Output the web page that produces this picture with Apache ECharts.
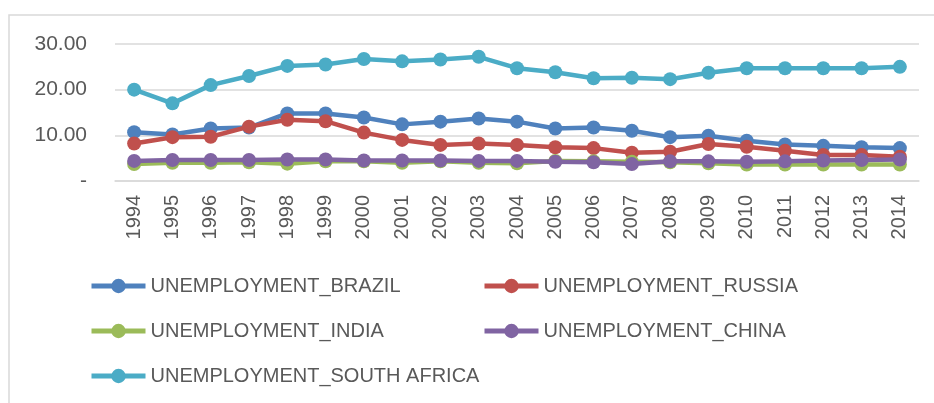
<!DOCTYPE html>
<html>
<head>
<meta charset="utf-8">
<script src="https://cdn.jsdelivr.net/npm/echarts@6/dist/echarts.min.js"></script>
<style>html,body{margin:0;padding:0;background:#fff}#c{width:934px;height:403px}</style>
</head>
<body>
<div id="c"></div>
<script>
const years = ['1994','1995','1996','1997','1998','1999','2000','2001','2002','2003','2004','2005','2006','2007','2008','2009','2010','2011','2012','2013','2014'];
const brazil = [10.7,10.2,11.5,11.7,14.8,14.8,13.9,12.4,13.0,13.7,13.0,11.5,11.7,11.0,9.6,9.9,8.8,8.0,7.7,7.4,7.2];
const russia = [8.2,9.6,9.7,11.9,13.4,13.1,10.6,9.0,7.9,8.2,7.9,7.4,7.2,6.2,6.4,8.1,7.5,6.6,5.7,5.7,5.3];
const india = [3.7,4.0,4.0,4.1,3.8,4.3,4.3,4.0,4.3,4.0,3.9,4.4,4.3,4.2,4.1,3.9,3.6,3.6,3.6,3.6,3.6];
const china = [4.4,4.6,4.6,4.6,4.7,4.7,4.5,4.5,4.5,4.4,4.4,4.2,4.1,3.7,4.3,4.3,4.2,4.3,4.5,4.6,4.7];
const southAfrica = [20.0,17.0,21.0,23.0,25.2,25.5,26.7,26.2,26.6,27.2,24.7,23.8,22.5,22.6,22.3,23.7,24.7,24.7,24.7,24.7,25.0];
const yTicks = [0,10,20,30];

const names = ['UNEMPLOYMENT_BRAZIL','UNEMPLOYMENT_RUSSIA','UNEMPLOYMENT_INDIA','UNEMPLOYMENT_CHINA','UNEMPLOYMENT_SOUTH AFRICA'];
const colors = ['#4F81BD','#C0504D','#9BBB59','#8064A2','#4BACC6'];
const datas = [brazil, russia, india, china, southAfrica];

const chart = echarts.init(document.getElementById('c'), null, {renderer:'canvas'});
const legendText = {color:'#595959', fontSize:20, fontFamily:'Liberation Sans, sans-serif'};
const legendCommon = {orient:'vertical', top:276, itemGap:25, itemWidth:54, itemHeight:18,
  lineStyle:{width:5}, textStyle:legendText, padding:0};
const option = {
  animation:false,
  color: colors,
  graphic:[{type:'polyline', shape:{points:[[9,403],[9,15],[934,15]]}, style:{stroke:'#D9D9D9', lineWidth:1.5, fill:null}}],
  grid:{left:115, right:15, top:44, bottom:222},
  legend:[
    Object.assign({data:[names[0],names[2],names[4]], left:89}, legendCommon),
    Object.assign({data:[names[1],names[3]], left:482}, legendCommon)
  ],
  xAxis:{type:'category', data:years, boundaryGap:true,
    axisLine:{lineStyle:{color:'#D9D9D9', width:1.5}}, axisTick:{show:false},
    axisLabel:{rotate:90, color:'#595959', fontSize:20, fontFamily:'Liberation Sans, sans-serif', margin:14, interval:0}},
  yAxis:{type:'value', min:yTicks[0], max:yTicks[yTicks.length-1], interval:10,
    axisLine:{show:false}, axisTick:{show:false},
    splitLine:{lineStyle:{color:'#D9D9D9', width:1.5}},
    axisLabel:{color:'#595959', fontSize:21, fontFamily:'Liberation Sans, sans-serif', margin:28,
      formatter:v => v===0 ? '-' : v.toFixed(2)}},
  series: datas.map((d,i)=>({name:names[i], type:'line', data:d, symbol:'circle', symbolSize:14,
    lineStyle:{width:4.5, color:colors[i]}, itemStyle:{color:colors[i]}, z:2+i}))
};
chart.setOption(option);
</script>
</body>
</html>
